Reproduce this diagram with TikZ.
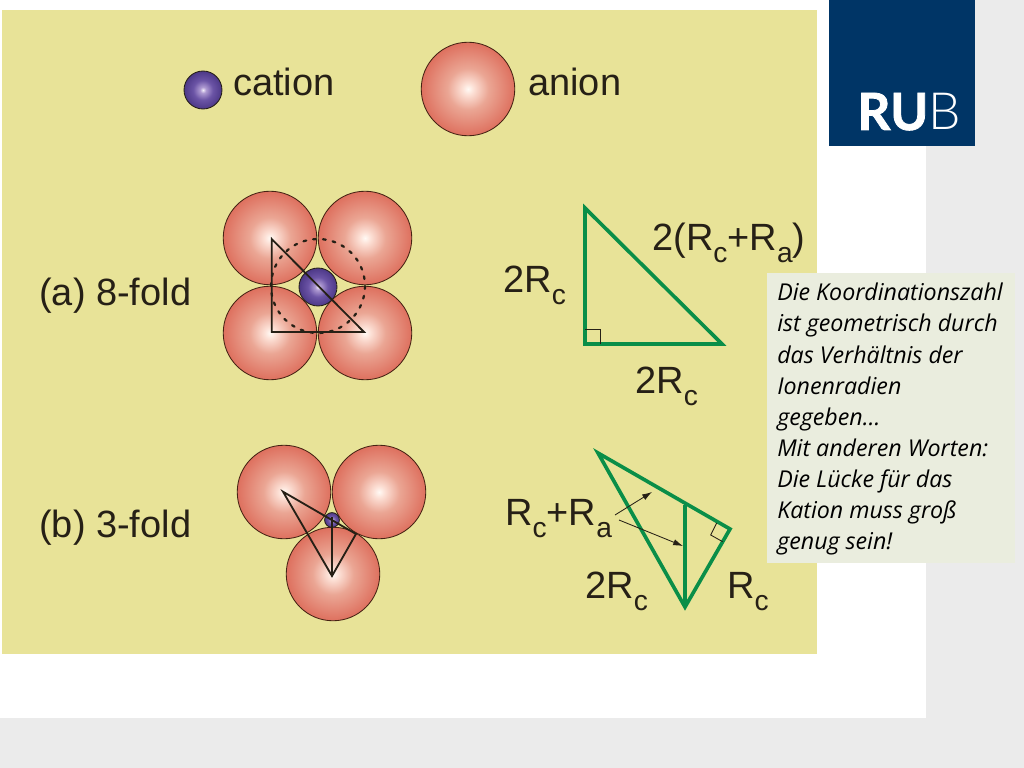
\documentclass[tikz,border=0pt]{standalone}
\usepackage{fontspec}
\setmainfont{Liberation Sans}
\newfontfamily\notefont{Open Sans}
\newfontfamily\rubfont[BoldFeatures={FakeBold=1.5}]{Lato}
\newfontfamily\rublight{Lato Light}
\usetikzlibrary{arrows.meta}
\definecolor{slidegrey}{RGB}{235,235,235}
\definecolor{paneyellow}{RGB}{232,227,152}
\definecolor{notebg}{RGB}{234,237,222}
\definecolor{rubblue}{RGB}{0,53,102}
\definecolor{ionedge}{RGB}{70,35,20}
\definecolor{inkdark}{RGB}{38,32,22}
\definecolor{trigreen}{RGB}{10,142,72}
\pgfdeclareradialshading{anionball}{\pgfpoint{0bp}{0bp}}{rgb(0bp)=(1,0.98,0.96);rgb(3bp)=(0.99,0.88,0.84);rgb(11bp)=(0.92,0.65,0.58);rgb(25bp)=(0.87,0.44,0.37);rgb(50bp)=(0.87,0.44,0.37)}
\pgfdeclareradialshading{cationball}{\pgfpoint{0bp}{0bp}}{rgb(0bp)=(0.95,0.93,0.98);rgb(4bp)=(0.68,0.60,0.82);rgb(13bp)=(0.42,0.33,0.65);rgb(25bp)=(0.30,0.22,0.53);rgb(50bp)=(0.30,0.22,0.53)}
\newcommand{\Rs}[1]{R\raisebox{-0.33em}{\fontsize{20}{20}\selectfont #1}}
\tikzset{
  anion/.style={circle,draw=ionedge,line width=0.6pt,minimum size=66.5pt,inner sep=0pt,shade,shading=anionball},
  cation/.style={circle,draw=inkdark,line width=0.6pt,minimum size=27pt,inner sep=0pt,shade,shading=cationball},
  label/.style={font=\fontsize{27}{27}\selectfont,text=inkdark,anchor=base west,inner sep=0pt},
  tri/.style={draw=trigreen,line width=2.6pt,line join=miter},
  geo/.style={draw=inkdark,line width=1.3pt},
  tick/.style={draw=inkdark,line width=0.6pt},
  pointer/.style={-{Latex[length=7pt,width=4.5pt]},line width=0.6pt,draw=inkdark}
}
\begin{document}
\begin{tikzpicture}[x=0.025cm,y=-0.025cm]
\useasboundingbox (0,0) rectangle (1024,768);
% slide background
\fill [slidegrey] (926,0) rectangle (1024,768);
\fill [slidegrey] (0,718) rectangle (1024,768);
\fill [paneyellow] (2,10) rectangle (817,654);
\fill [rubblue] (829,0) rectangle (975,146);
\node [anchor=base east,inner sep=0pt,text=white,font=\fontsize{36.5}{36.5}\selectfont] (logo) at (961,130) {{\rubfont\bfseries RU}{\rublight B}};
% legend
\node [cation] (legcat) at (203,90) {};
\node [label] (legcattext) at (233,96) {cation};
\node [anion] (legan) at (468,89) {};
\node [label] (leganttext) at (528,96) {anion};
% 8-fold
\node [label] (eighttext) at (39,305) {(a) 8-fold};
\node [anion] (tl) at (270,238) {};
\node [anion] (tr) at (365,238) {};
\node [anion] (bl) at (270,333) {};
\node [anion] (br) at (365,333) {};
\node [cation] (mid) at (318,287) {};
\draw [line width=1.6pt,line cap=round,dash pattern=on 2pt off 5pt,inkdark] (318,286) circle (47);
\draw [geo] (271.7,239) -- (271.7,332) -- (364,332) -- cycle;
\draw [tri] (585,208) -- (585,344) -- (722,344) -- cycle;
\draw [tick] (585,329) -- (600,329) -- (600,344);
\node [label] (hyp) at (652,250) {2(\Rs{c}+\Rs{a})};
\node [label] (leftside) at (503,292) {2\Rs{c}};
\node [label] (lowside) at (635,393) {2\Rs{c}};
% 3-fold
\node [label] (threetext) at (39,537) {(b) 3-fold};
\node [anion] (tla) at (284,492) {};
\node [anion] (tra) at (379,492) {};
\node [anion] (lowa) at (333,574) {};
\node [cation,minimum size=10.5pt] (smallcat) at (332,520) {};
\draw [geo] (283,491.7) -- (356,534) -- (332,576) -- cycle;
\draw [geo] (332,517) -- (332,576);
\draw [tri] (598,453) -- (730,529) -- (685,607) -- cycle;
\draw [tri] (685,505) -- (685,607);
\draw [tick] (716.7,523) -- (710.7,535) -- (722.7,541.7);
\coordinate (arrowa) at (615,515);
\coordinate (arrowb) at (619,520);
\coordinate (tipa) at (652,492);
\coordinate (tipb) at (683,546);
\draw [pointer] (arrowa) -- (tipa);
\draw [pointer] (arrowb) -- (tipb);
\node [label] (sumlabel) at (505,525) {\Rs{c}+\Rs{a}};
\node [label] (twolabel) at (585,598) {2\Rs{c}};
\node [label] (rlabel) at (727,598) {\Rs{c}};
% note
\fill [notebg] (767,273) rectangle (1015,563);
\node [anchor=north west,inner sep=0pt,align=left,font=\notefont\itshape\fontsize{16.5}{22.1}\selectfont] (note) at (777,283) {Die Koordinationszahl\\ist geometrisch durch\\das Verhältnis der\\Ionenradien\\gegeben…\\Mit anderen Worten:\\Die Lücke für das\\Kation muss groß\\genug sein!};
\end{tikzpicture}
\end{document}
